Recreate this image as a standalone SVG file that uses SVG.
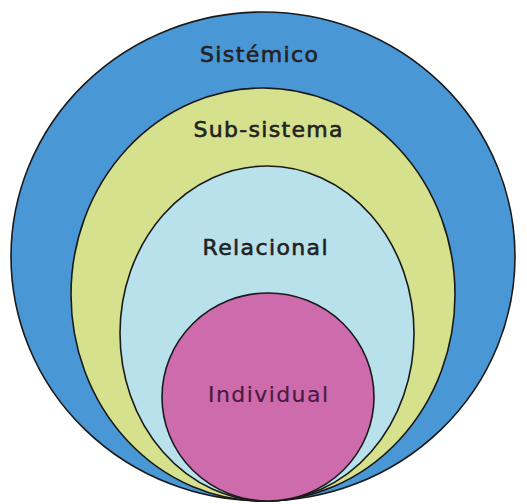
<svg xmlns="http://www.w3.org/2000/svg" width="527" height="504" viewBox="0 0 527 504">
<style>
.ring{stroke:#1a1a1a;stroke-width:1.6}
.lbl{font-family:"DejaVu Sans","Open Sans",sans-serif;font-size:22px;font-weight:400;fill:#222;text-anchor:middle;stroke:#222;stroke-width:0.6}
</style>
<rect width="527" height="504" fill="#ffffff"/>
<g id="sistemico">
<ellipse class="ring" cx="263" cy="256.5" rx="252" ry="244.5" fill="#4a97d5"/>
<text class="lbl" x="259" y="62" textLength="118" lengthAdjust="spacing">Sistémico</text>
</g>
<g id="subsistema">
<ellipse class="ring" cx="263" cy="294.5" rx="192" ry="206.5" fill="#d5e18c"/>
<text class="lbl" x="268" y="137" textLength="149" lengthAdjust="spacing">Sub-sistema</text>
</g>
<g id="relacional">
<ellipse class="ring" cx="267" cy="333.5" rx="147" ry="167.5" fill="#b9e1eb"/>
<text class="lbl" x="265" y="255" textLength="125" lengthAdjust="spacing">Relacional</text>
</g>
<g id="individual">
<ellipse class="ring" cx="268" cy="397" rx="106" ry="104" fill="#cd6bad"/>
<text class="lbl" x="268" y="402" textLength="120" lengthAdjust="spacing" style="stroke:#4a1a40;stroke-width:0.2;fill:#4a1a40">Individual</text>
</g>
</svg>
